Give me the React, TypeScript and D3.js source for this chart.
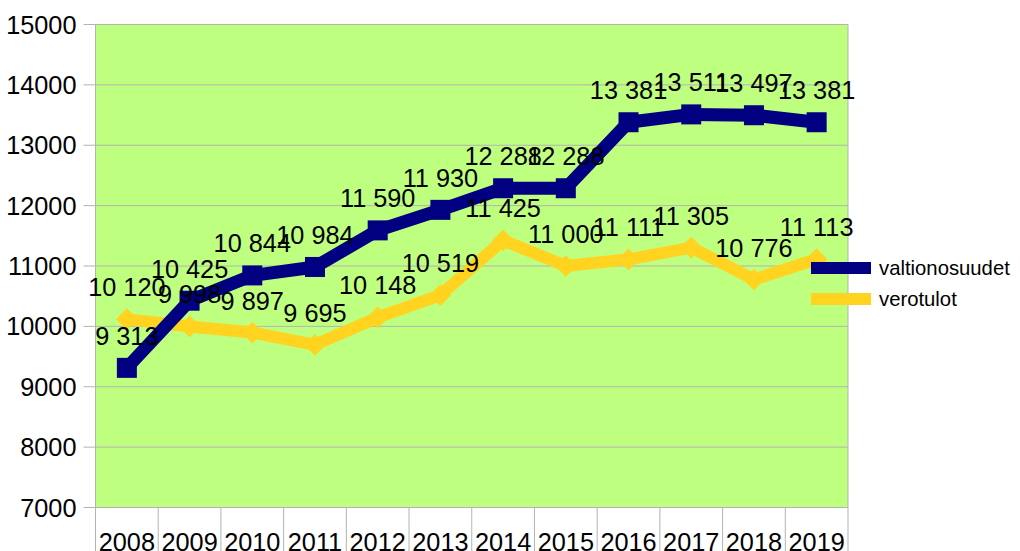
import React, { useEffect, useRef } from "react";
import * as d3 from "d3";

const years = ["2008", "2009", "2010", "2011", "2012", "2013", "2014", "2015", "2016", "2017", "2018", "2019"];
const valtionosuudet = [9313, 10425, 10844, 10984, 11590, 11930, 12288, 12288, 13381, 13511, 13497, 13381];
const verotulot = [10120, 9998, 9897, 9695, 10148, 10519, 11425, 11000, 11111, 11305, 10776, 11113];
const yTicks = [7000, 8000, 9000, 10000, 11000, 12000, 13000, 14000, 15000];
const seriesNames = ["valtionosuudet", "verotulot"];

const fmt = (v: number) => d3.format(",")(v).replace(/,/g, " ");

const App: React.FC = () => {
  const svgRef = useRef<SVGSVGElement>(null);

  useEffect(() => {
    if (!svgRef.current) return;
    const width = 1020;
    const height = 551;
    const margin = { top: 24.5, right: 172, bottom: 43.5, left: 95.5 };

    const svg = d3.select(svgRef.current).attr("width", width).attr("height", height);
    svg.selectAll("*").remove();

    const x = d3
      .scaleBand()
      .domain(years)
      .range([margin.left, width - margin.right]);
    const y = d3
      .scaleLinear()
      .domain([7000, 15000])
      .range([height - margin.bottom, margin.top]);

    const font = "'Liberation Sans', Arial, sans-serif";
    const fs = 25.3;

    // plot background
    svg
      .append("rect")
      .attr("x", margin.left)
      .attr("y", margin.top)
      .attr("width", width - margin.right - margin.left)
      .attr("height", height - margin.bottom - margin.top)
      .attr("fill", "#bfff80");

    // grid + y ticks
    yTicks.forEach((t) => {
      svg
        .append("line")
        .attr("x1", margin.left - 12)
        .attr("x2", width - margin.right)
        .attr("y1", y(t))
        .attr("y2", y(t))
        .attr("stroke", "#b3b3b3")
        .attr("stroke-width", 1);
      svg
        .append("text")
        .attr("x", margin.left - 19)
        .attr("y", y(t))
        .attr("dy", "0.36em")
        .attr("text-anchor", "end")
        .attr("font-family", font)
        .attr("font-size", fs)
        .attr("fill", "#000")
        .text(t);
    });

    // axis lines
    svg
      .append("line")
      .attr("x1", margin.left)
      .attr("x2", margin.left)
      .attr("y1", margin.top)
      .attr("y2", height)
      .attr("stroke", "#b3b3b3");
    svg
      .append("line")
      .attr("x1", width - margin.right)
      .attr("x2", width - margin.right)
      .attr("y1", margin.top)
      .attr("y2", height)
      .attr("stroke", "#b3b3b3");
    years.forEach((yr, i) => {
      if (i > 0) {
        svg
          .append("line")
          .attr("x1", x(yr)!)
          .attr("x2", x(yr)!)
          .attr("y1", y(7000))
          .attr("y2", height)
          .attr("stroke", "#b3b3b3");
      }
      svg
        .append("text")
        .attr("x", x(yr)! + x.bandwidth() / 2)
        .attr("y", y(7000) + 43)
        .attr("text-anchor", "middle")
        .attr("font-family", font)
        .attr("font-size", fs)
        .attr("fill", "#000")
        .text(yr);
    });

    const cx = (i: number) => x(years[i])! + x.bandwidth() / 2;
    const line = d3
      .line<number>()
      .x((_, i) => cx(i))
      .y((d) => y(d));

    // verotulot
    svg
      .append("path")
      .datum(verotulot)
      .attr("d", line)
      .attr("fill", "none")
      .attr("stroke", "#ffd320")
      .attr("stroke-width", 12)
      .attr("stroke-linejoin", "round");
    svg
      .selectAll(".dia")
      .data(verotulot)
      .enter()
      .append("path")
      .attr("d", d3.symbol(d3.symbolDiamond2, 300)())
      .attr("transform", (d, i) => `translate(${cx(i)},${y(d)})`)
      .attr("fill", "#ffd320");

    // valtionosuudet
    svg
      .append("path")
      .datum(valtionosuudet)
      .attr("d", line)
      .attr("fill", "none")
      .attr("stroke", "#000080")
      .attr("stroke-width", 13)
      .attr("stroke-linejoin", "round");
    svg
      .selectAll(".sq")
      .data(valtionosuudet)
      .enter()
      .append("rect")
      .attr("x", (_, i) => cx(i) - 10)
      .attr("y", (d) => y(d) - 10)
      .attr("width", 20)
      .attr("height", 20)
      .attr("fill", "#000080");

    // data labels
    [valtionosuudet, verotulot].forEach((series) => {
      series.forEach((v, i) => {
        svg
          .append("text")
          .attr("x", cx(i))
          .attr("y", y(v) - 23)
          .attr("text-anchor", "middle")
          .attr("font-family", font)
          .attr("font-size", fs)
          .attr("fill", "#000")
          .text(fmt(v));
      });
    });

    // legend
    const legendColors = ["#000080", "#ffd320"];
    seriesNames.forEach((name, i) => {
      const ly = 268 + i * 31;
      svg
        .append("line")
        .attr("x1", 811)
        .attr("x2", 871)
        .attr("y1", ly)
        .attr("y2", ly)
        .attr("stroke", legendColors[i])
        .attr("stroke-width", 12);
      svg
        .append("text")
        .attr("x", 879)
        .attr("y", ly)
        .attr("dy", "0.36em")
        .attr("font-family", font)
        .attr("font-size", 20.3)
        .attr("fill", "#000")
        .text(name);
    });
  }, []);

  return <svg ref={svgRef} style={{ position: "absolute", left: 0, top: 0 }}></svg>;
};

export default App;
